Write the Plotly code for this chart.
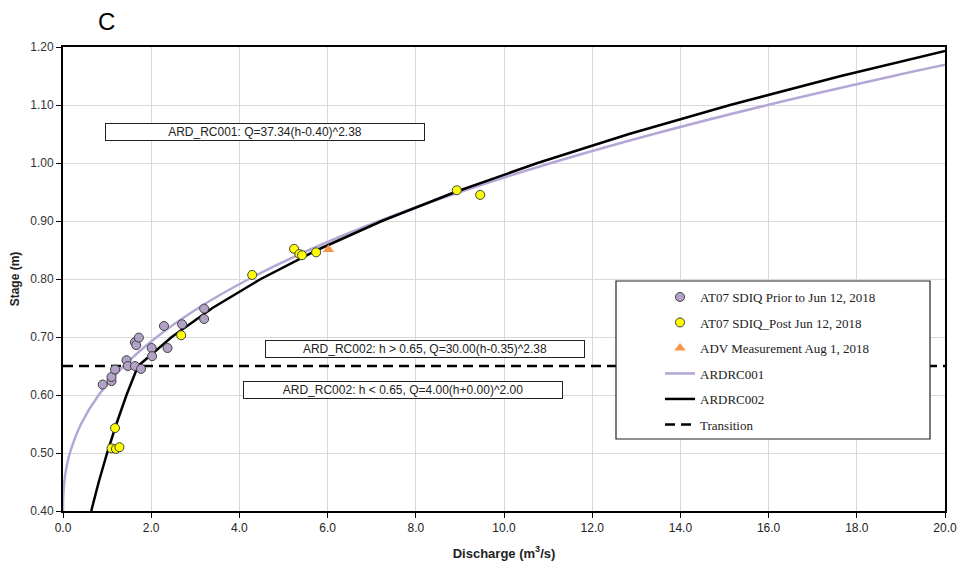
import plotly.graph_objects as go

# ---- data ----
prior_q = [0.90, 1.10, 1.10, 1.18, 1.44, 1.47, 1.63, 1.77, 1.63, 1.66, 1.72, 2.01, 2.02, 2.29, 2.37, 2.70, 3.20, 3.20]
prior_h = [0.618, 0.624, 0.631, 0.644, 0.660, 0.650, 0.650, 0.645, 0.691, 0.686, 0.699, 0.681, 0.667, 0.719, 0.681, 0.722, 0.749, 0.731]

post_q = [1.10, 1.20, 1.28, 1.18, 2.68, 4.29, 5.24, 5.36, 5.42, 5.74, 8.93, 9.46]
post_h = [0.508, 0.507, 0.510, 0.543, 0.703, 0.807, 0.852, 0.843, 0.841, 0.846, 0.953, 0.945]

adv_q = [6.02]
adv_h = [0.851]

rc001_h = [0.40, 0.41, 0.42, 0.43, 0.45, 0.47, 0.50, 0.55, 0.60, 0.65, 0.70, 0.75, 0.80, 0.85, 0.90, 0.95, 1.00, 1.05, 1.10, 1.15, 1.17]
rc001_q = [0.0, 0.0007, 0.0034, 0.0089, 0.030, 0.0665, 0.156, 0.409, 0.810, 1.378, 2.127, 3.069, 4.217, 5.582, 7.173, 8.999, 11.071, 13.394, 15.977, 18.828, 20.045]

rc002_h = [0.40, 0.45, 0.50, 0.55, 0.60, 0.65, 0.70, 0.75, 0.80, 0.85, 0.90, 0.95, 1.00, 1.05, 1.10, 1.15, 1.20]
rc002_q = [0.64, 0.81, 1.00, 1.21, 1.44, 1.70, 2.466, 3.388, 4.485, 5.763, 7.230, 8.895, 10.761, 12.836, 15.127, 17.640, 20.376]

transition_q = [0.0, 20.0]
transition_h = [0.65, 0.65]

x_ticks = [0, 2, 4, 6, 8, 10, 12, 14, 16, 18, 20]
y_ticks = [0.40, 0.50, 0.60, 0.70, 0.80, 0.90, 1.00, 1.10, 1.20]

eq_labels = ["ARD_RC001: Q=37.34(h-0.40)^2.38",
             "ARD_RC002: h > 0.65, Q=30.00(h-0.35)^2.38",
             "ARD_RC002: h < 0.65, Q=4.00(h+0.00)^2.00"]
eq_q = [4.59, 8.21, 7.70]
eq_h = [1.0534, 0.680, 0.6086]

LAV = "#B4A7D6"
L, R, T, B = 63, 13, 47, 54
PW, PH = 958 - L - R, 565 - T - B

fig = go.Figure()

fig.add_trace(go.Scatter(x=rc001_q, y=rc001_h, mode="lines", name="ARDRC001",
                         line=dict(color=LAV, width=2.5, shape="spline"), legendgroup="d", legendrank=4))
fig.add_trace(go.Scatter(x=rc002_q, y=rc002_h, mode="lines", name="ARDRC002",
                         line=dict(color="black", width=2.5), legendgroup="e", legendrank=5))
fig.add_trace(go.Scatter(x=transition_q, y=transition_h, mode="lines", name="Transition",
                         line=dict(color="black", width=2.5, dash="10px,6px"), legendgroup="f", legendrank=6))
fig.add_trace(go.Scatter(x=prior_q, y=prior_h, mode="markers", name="AT07 SDIQ Prior to Jun 12, 2018",
                         marker=dict(color="#B3A2C7", size=9, line=dict(color="#404040", width=1)),
                         legendgroup="a", legendrank=1))
fig.add_trace(go.Scatter(x=post_q, y=post_h, mode="markers", name="AT07 SDIQ_Post Jun 12, 2018",
                         marker=dict(color="#FFFF00", size=9, line=dict(color="#404040", width=1)),
                         legendgroup="b", legendrank=2))
fig.add_trace(go.Scatter(x=adv_q, y=adv_h, mode="markers", name="ADV Measurement Aug 1, 2018",
                         marker=dict(color="#F79646", size=10, symbol="triangle-up"),
                         legendgroup="c", legendrank=3))

for t, q, h in zip(eq_labels, eq_q, eq_h):
    fig.add_annotation(x=q, y=h, xref="x", yref="y", text=t, showarrow=False,
                       font=dict(family="Liberation Sans, Arial", size=12, color="#222"),
                       bgcolor="white", bordercolor="#222", borderwidth=1, borderpad=1,
                       width=316, height=14, align="center")

fig.add_annotation(x=(106 - L) / PW, y=1 + (T - 22) / PH, xref="paper", yref="paper", text="C", showarrow=False,
                   font=dict(family="Liberation Sans, Arial", size=24, color="black"),
                   xanchor="center", yanchor="middle")

# legend frame
fig.add_shape(type="rect", xref="paper", yref="paper",
              x0=(616 - L) / PW, x1=(930 - L) / PW,
              y0=(565 - B - 439) / PH, y1=(565 - B - 281) / PH,
              line=dict(color="#222", width=1.2), fillcolor="white", layer="above")

fig.update_layout(
    width=958, height=565,
    margin=dict(l=L, r=R, t=T, b=B, autoexpand=False),
    plot_bgcolor="white", paper_bgcolor="white",
    showlegend=True,
    legend=dict(x=(660 - L) / PW, y=(565 - B - 282) / PH, xanchor="left", yanchor="top",
                bgcolor="rgba(0,0,0,0)", borderwidth=0,
                font=dict(family="Liberation Serif, Times New Roman", size=13, color="#222"),
                tracegroupgap=5.6, traceorder="grouped"),
    xaxis=dict(range=[0, 20], tickvals=x_ticks, tickformat=".1f", automargin=False,
               showgrid=True, gridcolor="#D9D9D9", gridwidth=1,
               showline=True, linecolor="black", linewidth=2, mirror=True,
               ticks="outside", ticklen=5, tickcolor="black", zeroline=False,
               tickfont=dict(family="Liberation Sans Narrow, Arial Narrow, Liberation Sans", size=12, color="#222"),
               title=dict(text="<b>Discharge (m<sup>3</sup>/s)</b>", standoff=14,
                          font=dict(family="Liberation Sans Narrow, Arial Narrow, Liberation Sans", size=13, color="#222"))),
    yaxis=dict(range=[0.4, 1.2], tickvals=y_ticks, tickformat=".2f", automargin=False,
               showgrid=True, gridcolor="#D9D9D9", gridwidth=1,
               showline=True, linecolor="black", linewidth=2, mirror=True,
               ticks="outside", ticklen=5, tickcolor="black", zeroline=False,
               tickfont=dict(family="Liberation Sans, Arial", size=12, color="#333"),
               title=dict(text="<b>Stage (m)</b>", standoff=8,
                          font=dict(family="Liberation Sans, Arial", size=12, color="#222"))),
)

fig.write_html("out.html", config={"displayModeBar": False},
               post_script="document.body.style.margin='0px';document.body.style.overflow='hidden';")
